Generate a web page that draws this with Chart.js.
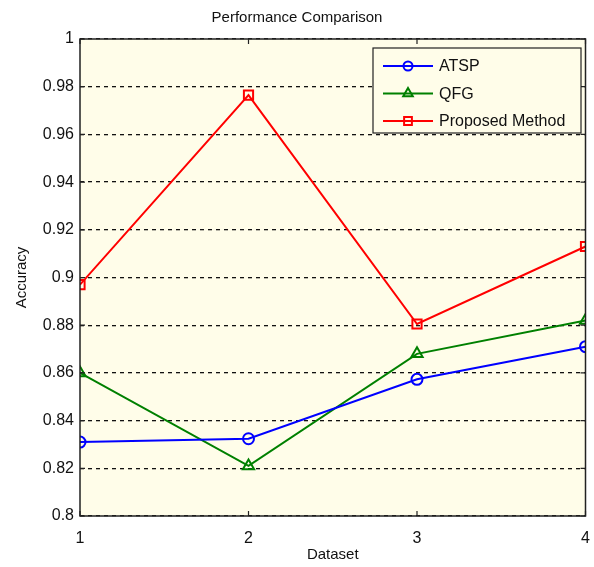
<!DOCTYPE html>
<html>
<head>
<meta charset="utf-8">
<script src="https://cdn.jsdelivr.net/npm/chart.js@4/dist/chart.umd.min.js"></script>
<style>
  html, body { margin: 0; padding: 0; background: #fff; }
  #wrap { width: 594px; height: 567px; }
</style>
</head>
<body>
<div id="wrap"><canvas id="myChart" width="594" height="567"></canvas></div>
<script>
const FONT = "'Liberation Sans', Arial, sans-serif";

const datasetsX = [1, 2, 3, 4];
const atsp = [0.831, 0.8324, 0.8573, 0.871];
const qfg = [0.860, 0.821, 0.868, 0.882];
const proposed = [0.897, 0.9765, 0.8805, 0.913];
const seriesNames = ['ATSP', 'QFG', 'Proposed Method'];
const yTicks = [0.8, 0.82, 0.84, 0.86, 0.88, 0.9, 0.92, 0.94, 0.96, 0.98, 1];

const toPoints = arr => arr.map((v, i) => ({x: datasetsX[i], y: v}));

const data = {
    datasets: [
        {
            label: seriesNames[0],
            data: toPoints(atsp),
            borderColor: '#0000ff',
            backgroundColor: 'rgba(0,0,0,0)',
            pointStyle: 'circle',
            pointRadius: 5.5,
            borderWidth: 2,
            pointBorderWidth: 2
        },
        {
            label: seriesNames[1],
            data: toPoints(qfg),
            borderColor: '#008000',
            backgroundColor: 'rgba(0,0,0,0)',
            pointStyle: 'triangle',
            pointRadius: 6.5,
            borderWidth: 2,
            pointBorderWidth: 2
        },
        {
            label: seriesNames[2],
            data: toPoints(proposed),
            borderColor: '#ff0000',
            backgroundColor: 'rgba(0,0,0,0)',
            pointStyle: 'rect',
            pointRadius: 6.5,
            borderWidth: 2,
            pointBorderWidth: 2
        }
    ]
};

// matlab-like frame: cream background, box, inward ticks, legend box
const matlabFrame = {
    id: 'matlabFrame',
    beforeDraw(chart) {
        const {ctx, chartArea: a} = chart;
        ctx.save();
        ctx.fillStyle = '#fffde9';
        ctx.fillRect(a.left, a.top, a.right - a.left, a.bottom - a.top);
        ctx.restore();
    },
    afterDatasetsDraw(chart) {
        const {ctx, chartArea: a, scales} = chart;
        ctx.save();
        ctx.strokeStyle = '#222';
        ctx.lineWidth = 1.5;
        ctx.strokeRect(a.left, a.top, a.right - a.left, a.bottom - a.top);
        ctx.lineWidth = 1.2;
        ctx.beginPath();
        yTicks.forEach(v => {
            const y = scales.y.getPixelForValue(v);
            ctx.moveTo(a.left, y); ctx.lineTo(a.left + 5, y);
            ctx.moveTo(a.right, y); ctx.lineTo(a.right - 5, y);
        });
        datasetsX.forEach(v => {
            const x = scales.x.getPixelForValue(v);
            ctx.moveTo(x, a.bottom); ctx.lineTo(x, a.bottom - 5);
            ctx.moveTo(x, a.top); ctx.lineTo(x, a.top + 5);
        });
        ctx.stroke();

        // legend
        const lx = 373, ly = 48, lw = 208, lh = 85;
        ctx.fillStyle = '#fffde9';
        ctx.fillRect(lx, ly, lw, lh);
        ctx.strokeStyle = '#222';
        ctx.lineWidth = 1.2;
        ctx.strokeRect(lx, ly, lw, lh);
        ctx.textBaseline = 'middle';
        chart.data.datasets.forEach((ds, i) => {
            const y = ly + 18 + i * 27.5;
            ctx.strokeStyle = ds.borderColor;
            ctx.lineWidth = 2;
            ctx.beginPath();
            ctx.moveTo(lx + 10, y); ctx.lineTo(lx + 60, y);
            ctx.stroke();
            ctx.fillStyle = 'rgba(0,0,0,0)';
            Chart.helpers.drawPoint(ctx, {
                pointStyle: ds.pointStyle,
                radius: ds.pointRadius - 1,
                borderWidth: 2,
                rotation: 0
            }, lx + 35, y);
            ctx.fillStyle = '#111';
            ctx.font = '16px ' + FONT;
            ctx.fillText(ds.label, lx + 66, y + 1);
        });
        ctx.restore();
    }
};

const config = {
    type: 'line',
    data: data,
    options: {
        responsive: false,
        animation: false,
        layout: {padding: {left: 0, right: 0, top: 0, bottom: 0}},
        plugins: {
            legend: {display: false},
            tooltip: {enabled: false},
            title: {
                display: true,
                text: 'Performance Comparison',
                color: '#111',
                font: {family: FONT, size: 15, weight: 'normal'},
                padding: {top: 9, bottom: 12}
            }
        },
        scales: {
            x: {
                type: 'linear',
                min: 1,
                max: 4,
                afterFit: s => { s.height = 51; s.paddingRight = 0; },
                ticks: {
                    stepSize: 1,
                    color: '#111',
                    padding: 5,
                    font: {family: FONT, size: 16}
                },
                grid: {display: false},
                border: {display: false},
                title: {
                    display: true,
                    text: 'Dataset',
                    color: '#111',
                    padding: {top: 0, bottom: 3},
                    font: {family: FONT, size: 15}
                }
            },
            y: {
                min: 0.8,
                max: 1,
                afterFit: s => { s.width = 80; },
                afterBuildTicks: s => { s.ticks = yTicks.map(v => ({value: v})); },
                ticks: {
                    color: '#111',
                    padding: 6,
                    font: {family: FONT, size: 16},
                    callback: v => String(+v.toFixed(2))
                },
                grid: {
                    color: '#111',
                    lineWidth: 1.3,
                    drawTicks: false
                },
                border: {display: false, dash: [4, 4]},
                title: {
                    display: true,
                    text: 'Accuracy',
                    color: '#111',
                    padding: {top: 13, bottom: 4},
                    font: {family: FONT, size: 15}
                }
            }
        }
    },
    plugins: [matlabFrame]
};

const myChart = new Chart(document.getElementById('myChart'), config);
</script>
</body>
</html>
